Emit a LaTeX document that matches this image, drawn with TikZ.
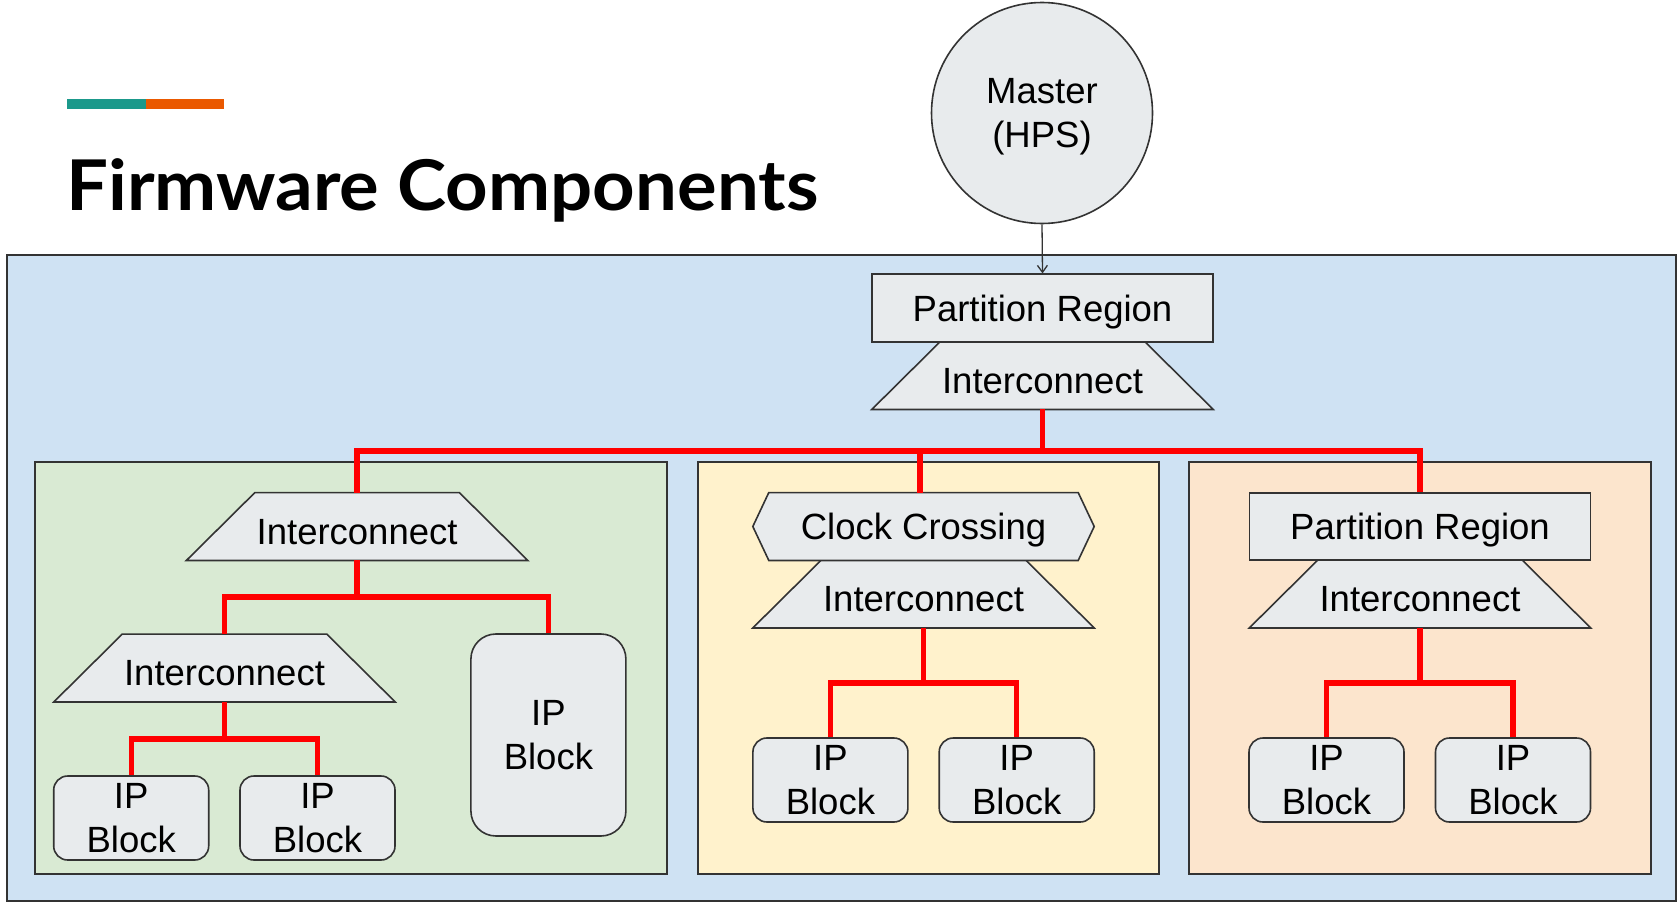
\documentclass[tikz,border=0pt]{standalone}
\usepackage{fontspec}
\setmainfont{Liberation Sans}
\newfontfamily\titlefont{Lato}
\usetikzlibrary{arrows.meta,calc}
\pgfdeclarelayer{back}
\pgfdeclarelayer{mid}
\pgfsetlayers{back,mid,main}
\definecolor{edge}{HTML}{333333}
\definecolor{shapefill}{HTML}{E8EBED}
\definecolor{bluefill}{HTML}{CFE2F3}
\definecolor{greenfill}{HTML}{D9EAD3}
\definecolor{yellowfill}{HTML}{FFF2CC}
\definecolor{orangefill}{HTML}{FCE5CD}
\definecolor{tealbar}{HTML}{1B998B}
\definecolor{orangebar}{HTML}{EA5900}
\definecolor{busred}{HTML}{FF0000}
\newcommand{\lbl}{\fontsize{36.5}{43.8}\selectfont}
\begin{document}
\begin{tikzpicture}[x=1pt,y=-1pt,
  cont/.style={draw=edge, line width=1.6pt, inner sep=0pt, rectangle},
  shp/.style={draw=edge, line width=1.6pt, fill=shapefill, line join=miter},
  rbox/.style={shp, rectangle, inner sep=0pt, font=\lbl, minimum width=341pt, minimum height=67.5pt, text height=26.1pt, text depth=0pt},
  icn/.style={rectangle, inner sep=0pt, font=\lbl, minimum width=341pt, minimum height=67.5pt, text height=35pt, text depth=0pt},
  ccn/.style={rectangle, inner sep=0pt, font=\lbl, minimum width=341pt, minimum height=67.5pt, text height=26.1pt, text depth=0pt},
  ipb/.style={shp, rectangle, rounded corners=14pt, inner sep=0pt, font=\lbl, align=center, minimum width=155pt, minimum height=84pt},
  ipbig/.style={shp, rectangle, rounded corners=25pt, inner sep=0pt, font=\lbl, align=center, minimum width=155pt, minimum height=202pt},
  bus/.style={draw=busred, line width=5.3pt},
  link/.style={draw=edge, line width=1.3pt, -{Straight Barb[length=7pt,width=10pt]}}
]
\useasboundingbox (0,0) rectangle (1678,902);

% title
\fill[tealbar] (67,99) rectangle (146,109);
\fill[orangebar] (146,99) rectangle (224,109);
\node[anchor=base west, inner sep=0pt, font=\titlefont\bfseries\fontsize{70}{84}\selectfont] (title) at (66,210) {\scalebox{1.06}[1]{Firmware Components}};

% containers
\begin{pgfonlayer}{back}
\node[cont, fill=bluefill, line width=2pt, minimum width=1669pt, minimum height=646pt] (outer) at (841.5,578) {};
\node[cont, fill=greenfill, minimum width=632pt, minimum height=412pt] (green) at (351,668) {};
\node[cont, fill=yellowfill, minimum width=461pt, minimum height=412pt] (yellow) at (928.5,668) {};
\node[cont, fill=orangefill, minimum width=462pt, minimum height=412pt] (orange) at (1420,668) {};
\end{pgfonlayer}

% master
\node[shp, circle, inner sep=0pt, minimum size=221pt, font=\lbl, align=center] (master) at (1042,113) {Master\\\raisebox{0pt}[\height][0pt]{(HPS)}};

% top partition
\node[rbox] (pr0) at (1042.5,308) {Partition Region};
\node[icn] (ic0) at (1042.5,375.5) {Interconnect};

% green
\node[icn] (gic) at (357.1,526.5) {Interconnect};
\node[icn] (gic2) at (224.5,668) {Interconnect};
\node[ipbig] (bigip) at (548.4,735) {IP\\Block};
\node[ipb] (gip1) at (131.2,818) {IP\\Block};
\node[ipb] (gip2) at (317.5,818) {IP\\Block};

% yellow
\node[ccn] (cc) at (923.5,526.5) {Clock Crossing};
\node[icn] (yic) at (923.5,594) {Interconnect};
\node[ipb] (yip1) at (830.4,780) {IP\\Block};
\node[ipb] (yip2) at (1016.7,780) {IP\\Block};

% orange
\node[rbox] (opr) at (1420,526.5) {Partition Region};
\node[icn] (oic) at (1420,594) {Interconnect};
\node[ipb] (oip1) at (1326.5,780) {IP\\Block};
\node[ipb] (oip2) at (1513,780) {IP\\Block};

% shape outlines behind text
\begin{pgfonlayer}{mid}
\foreach \n in {ic0,gic,gic2,yic,oic}
  \filldraw[shp] (\n.south west) -- ([xshift=68.5pt]\n.north west) -- ([xshift=-68.5pt]\n.north east) -- (\n.south east) -- cycle;
\filldraw[shp] (cc.west) -- ([xshift=16pt]cc.north west) -- ([xshift=-16pt]cc.north east) -- (cc.east) -- ([xshift=-16pt]cc.south east) -- ([xshift=16pt]cc.south west) -- cycle;
\end{pgfonlayer}

% junctions
\coordinate (j0) at (1042.5,451);
\coordinate (j1) at (357.1,597);
\coordinate (j2) at (224.5,739);
\coordinate (j3) at (923.5,683);
\coordinate (j4) at (1420,683);

% connectors
\draw[link] (master.south) -- (pr0.north);
\draw[bus] (ic0.south) -- (j0) -| (gic.north);
\draw[bus] (j0) -| ([xshift=-3.5pt]cc.north);
\draw[bus] (j0) -| (opr.north);
\draw[bus] (gic.south) -- (j1) -| (gic2.north);
\draw[bus] (j1) -| (bigip.north);
\draw[bus] (gic2.south) -- (j2) -| (gip1.north);
\draw[bus] (j2) -| (gip2.north);
\draw[bus] (yic.south) -- (j3) -| (yip1.north);
\draw[bus] (j3) -| (yip2.north);
\draw[bus] (oic.south) -- (j4) -| (oip1.north);
\draw[bus] (j4) -| (oip2.north);
\end{tikzpicture}
\end{document}
